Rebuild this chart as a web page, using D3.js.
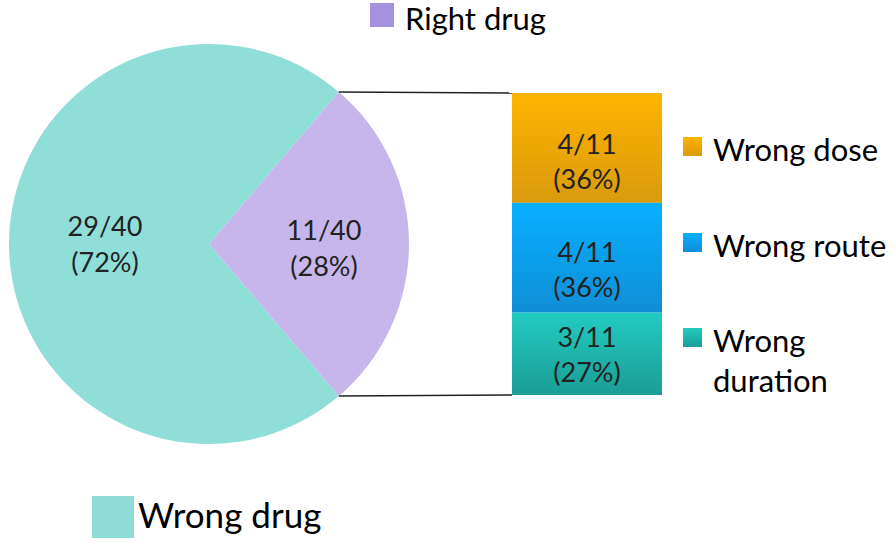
<!DOCTYPE html>
<html>
<head>
<meta charset="utf-8">
<script src="https://cdn.jsdelivr.net/npm/d3@7"></script>
<style>
  html, body { margin: 0; padding: 0; background: #fff; }
  svg { display: block; font-family: Lato, "Open Sans", sans-serif; }
</style>
</head>
<body>
<div id="chart"></div>
<script>
// pie: all prescriptions
const pieCategories = ["Wrong drug", "Right drug"];
const pieValues = [29, 11];
const pieFractions = ["29/40", "11/40"];
const piePercents = ["(72%)", "(28%)"];

// breakdown bar of the "Right drug" slice
const barCategories = ["Wrong dose", "Wrong route", "Wrong duration"];
const barValues = [4, 4, 3];
const barFractions = ["4/11", "4/11", "3/11"];
const barPercents = ["(36%)", "(36%)", "(27%)"];

const width = 896;
const height = 542;

const pieColor = d3.scaleOrdinal()
  .domain(pieCategories)
  .range(["#8fdfd8", "#c6b6eb"]);
const pieSwatch = d3.scaleOrdinal()
  .domain(pieCategories)
  .range(["#8edcd6", "#a491e0"]);
// top / bottom of each gradient
const barColor = d3.scaleOrdinal()
  .domain(barCategories)
  .range([["#ffb400", "#d99a0c"], ["#06b0ff", "#118ed6"], ["#22cbc2", "#1b9d96"]]);

const svg = d3.select("#chart")
  .append("svg")
  .attr("width", width)
  .attr("height", height);

const defs = svg.append("defs");
barCategories.forEach((c, i) => {
  const g = defs.append("linearGradient")
    .attr("id", "grad" + i)
    .attr("x1", 0).attr("y1", 0).attr("x2", 0).attr("y2", 1);
  g.append("stop").attr("offset", "0%").attr("stop-color", barColor(c)[0]);
  g.append("stop").attr("offset", "100%").attr("stop-color", barColor(c)[1]);
});

// pie geometry
const cx = 209, cy = 244, r = 200;
const total = d3.sum(pieValues);
// keep the small slice centred on 3 o'clock
const half = Math.PI * pieValues[1] / total;
const pie = d3.pie()
  .sort(null)
  .startAngle(Math.PI / 2 + half)
  .endAngle(Math.PI / 2 + half + 2 * Math.PI);
const arc = d3.arc().innerRadius(0).outerRadius(r);
const arcs = pie(pieValues);

const pg = svg.append("g").attr("transform", `translate(${cx},${cy})`);
pg.selectAll("path")
  .data(arcs)
  .join("path")
  .attr("fill", (d, i) => pieColor(pieCategories[i]))
  .attr("d", arc);

const labelPos = [[-104, -8], [115, -4]];
const pl = pg.selectAll("text")
  .data(arcs)
  .join("text")
  .attr("text-anchor", "middle")
  .attr("font-size", 27)
  .attr("fill", "#222")
  .attr("transform", (d, i) => `translate(${labelPos[i]})`);
pl.append("tspan").attr("x", 0).attr("y", 0).text((d, i) => pieFractions[i]);
pl.append("tspan").attr("x", 0).attr("y", 36).text((d, i) => piePercents[i]);

// stacked bar
const barX = 512, barW = 150;
const y = d3.scaleLinear()
  .domain([0, d3.sum(barValues)])
  .range([93, 395]);
const stack = d3.cumsum(barValues);
const segs = barValues.map((v, i) => ({ cat: barCategories[i], y0: stack[i] - v, y1: stack[i], i }));

svg.append("g")
  .selectAll("rect")
  .data(segs)
  .join("rect")
  .attr("x", barX)
  .attr("width", barW)
  .attr("y", d => y(d.y0))
  .attr("height", d => y(d.y1) - y(d.y0))
  .attr("fill", d => `url(#grad${d.i})`);

// first baseline relative to segment middle
const barLabelShift = [6, 4, -7];
const bl = svg.append("g")
  .selectAll("text")
  .data(segs)
  .join("text")
  .attr("text-anchor", "middle")
  .attr("font-size", 27)
  .attr("fill", "#222")
  .attr("transform", d => `translate(${barX + barW / 2},${(y(d.y0) + y(d.y1)) / 2 + barLabelShift[d.i]})`);
bl.append("tspan").attr("x", 0).attr("y", 0).text(d => barFractions[d.i]);
bl.append("tspan").attr("x", 0).attr("y", 35).text(d => barPercents[d.i]);

// connector lines from the small slice edges to the bar
const small = arcs[1];
const edge = a => [cx + r * Math.sin(a), cy - r * Math.cos(a)];
const p0 = edge(small.startAngle), p1 = edge(small.endAngle);
svg.append("g")
  .attr("stroke", "#222")
  .attr("stroke-width", 1.5)
  .selectAll("line")
  .data([[p0, [barX, y(0)]], [p1, [barX, y(d3.sum(barValues))]]])
  .join("line")
  .attr("x1", d => d[0][0]).attr("y1", d => d[0][1])
  .attr("x2", d => d[1][0]).attr("y2", d => d[1][1]);

// legends
const legend = [
  { fill: pieSwatch(pieCategories[1]), x: 370, y: 3, s: 24, tx: 405, ty: 30, fs: 31, lh: 0, lines: ["Right drug"] },
  { fill: pieSwatch(pieCategories[0]), x: 92, y: 496, s: 42, tx: 138, ty: 528, fs: 35, lh: 0, lines: ["Wrong drug"] },
  { grad: 0, x: 683, y: 137, s: 19, tx: 713, ty: 161, fs: 31, lh: 0, lines: ["Wrong dose"] },
  { grad: 1, x: 683, y: 233, s: 19, tx: 713, ty: 257, fs: 31, lh: 0, lines: ["Wrong route"] },
  { grad: 2, x: 683, y: 328, s: 19, tx: 713, ty: 352, fs: 31, lh: 40, lines: ["Wrong", "duration"] }
];

const lg = svg.append("g")
  .selectAll("g")
  .data(legend)
  .join("g");
lg.append("rect")
  .attr("x", d => d.x).attr("y", d => d.y)
  .attr("width", d => d.s).attr("height", d => d.s)
  .attr("fill", d => d.grad != null ? `url(#grad${d.grad})` : d.fill);
const lt = lg.append("text")
  .attr("font-size", d => d.fs)
  .attr("fill", "#000");
lt.each(function(d) {
  d.lines.forEach((t, k) => {
    d3.select(this).append("tspan")
      .attr("x", d.tx)
      .attr("y", d.ty + k * d.lh)
      .text(t);
  });
});
</script>
</body>
</html>
